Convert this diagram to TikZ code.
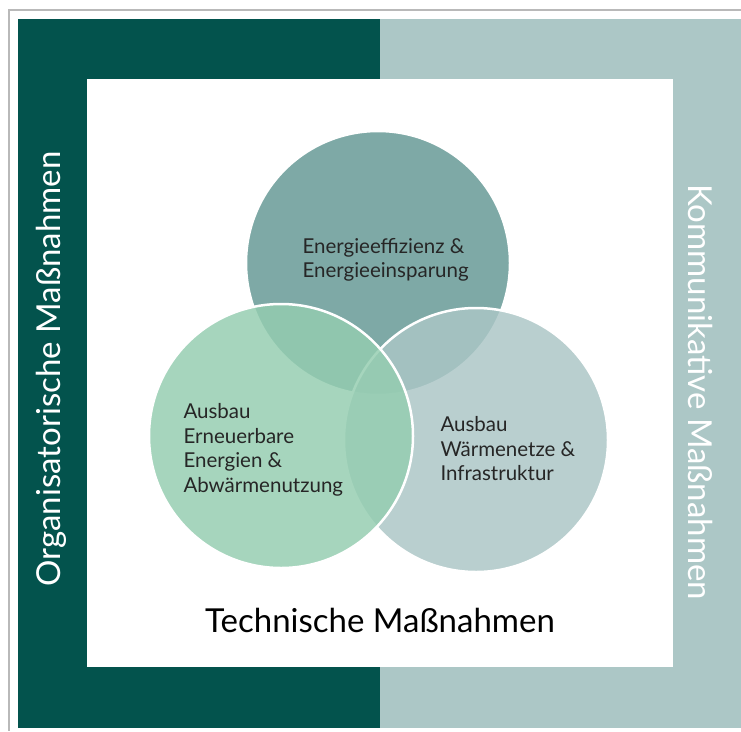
\documentclass[tikz,border=0pt]{standalone}
\usepackage{fontspec}
\setmainfont{Lato}
\definecolor{dunkelgruen}{HTML}{03534D}
\definecolor{hellgrau}{HTML}{ACC7C6}
\definecolor{kreisoben}{RGB}{100,152,148}
\definecolor{kreisrechts}{RGB}{171,198,198}
\definecolor{kreislinks}{RGB}{148,205,176}
\begin{document}
\begin{tikzpicture}[x=1pt,y=-1pt,
  kreis/.style={draw=white,line width=2.5pt,circle,minimum size=264pt,fill opacity=0.83},
  txt/.style={anchor=west,align=left,font=\fontsize{20.5}{24.5}\selectfont,text=black!85},
  gross/.style={font=\fontsize{33}{36}\selectfont}]
\path[use as bounding box] (0,0) rectangle (741,731);

\draw[gray!55,line width=2pt] (741,10) -- (9,10) -- (9,731);
\fill[dunkelgruen] (18,19) rectangle (380,728);
\fill[hellgrau] (380,19) rectangle (741,728);
\fill[white] (87,79) rectangle (673,667);

\node[kreis,fill=kreisoben] (oben) at (378,263) {};
\node[kreis,fill=kreisrechts] (rechts) at (476,440) {};
\node[kreis,fill=kreislinks] (links) at (281,436) {};

\node[txt] (t1) at (299,260) {Energieeffizienz \&\\Energieeinsparung};
\node[txt] (t2) at (180,450) {Ausbau\\Erneuerbare\\Energien \&\\Abwärmenutzung};
\node[txt] (t3) at (437,449) {Ausbau\\Wärmenetze \&\\Infrastruktur};

\node[gross] (tech) at (380,620) {Technische Maßnahmen};
\node[gross,rotate=90,text=white] (orga) at (51,369) {Organisatorische Maßnahmen};
\node[gross,rotate=-90,text=white] (komm) at (701,392) {Kommunikative Maßnahmen};
\end{tikzpicture}
\end{document}
